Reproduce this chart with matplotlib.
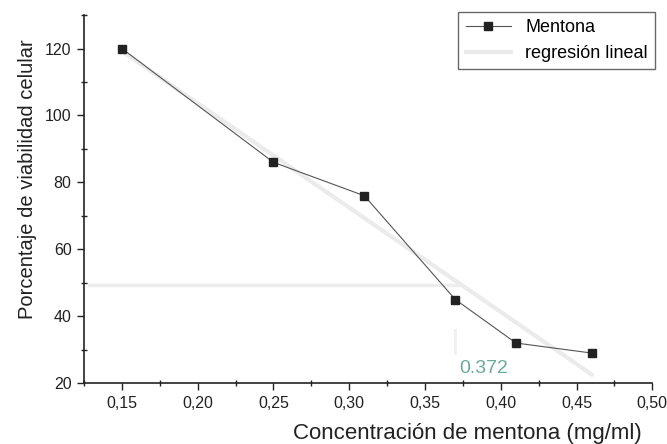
import numpy as np
import matplotlib.pyplot as plt
from matplotlib.ticker import MultipleLocator, FuncFormatter

plt.rcParams['font.family'] = ['Liberation Sans', 'DejaVu Sans']

# ====== datos ======
conc = [0.15, 0.25, 0.31, 0.37, 0.41, 0.46]
viab = [120, 86, 76, 45, 32, 29]
ic50_y = 50
x_ticks = [0.15, 0.20, 0.25, 0.30, 0.35, 0.40, 0.45, 0.50]
y_ticks = [20, 40, 60, 80, 100, 120]

# regresión lineal
slope, intercept = np.polyfit(conc, viab, 1)
ic50_x = (ic50_y - intercept) / slope
x_fit = np.array([conc[0], conc[-1]])
y_fit = slope * x_fit + intercept

fig = plt.figure(figsize=(6.67, 4.44), dpi=100)
ax = fig.add_axes([0.126, 0.137, 0.852, 0.829])

ax.plot(x_fit, y_fit, color='#ebebeb', lw=3, label='regresión lineal', zorder=1)
ax.plot([0.128, ic50_x], [ic50_y - 0.8, ic50_y - 0.8], color='#ededed', lw=2.5, zorder=1)
ax.plot([ic50_x - 0.002, ic50_x - 0.002], [29, 36], color='#f0f0f0', lw=2, zorder=1)
ax.plot(conc, viab, '-s', color='#555555', lw=0.8, markersize=6,
        markerfacecolor='#222222', markeredgecolor='#222222',
        label='Mentona', zorder=3)
ax.text(ic50_x + 0.0005, 24.5, f'{ic50_x:.3f}', color='#6aaa9a', fontsize=14,
        ha='left', va='center')

ax.set_xlim(0.125, 0.50)
ax.set_ylim(20, 130)
ax.set_xticks(x_ticks)
ax.set_yticks(y_ticks)
ax.xaxis.set_minor_locator(MultipleLocator(0.025))
ax.yaxis.set_minor_locator(MultipleLocator(10))
ax.xaxis.set_major_formatter(FuncFormatter(lambda v, p: f'{v:.2f}'.replace('.', ',')))

for s in ['top', 'right']:
    ax.spines[s].set_visible(False)
for s in ['left', 'bottom']:
    ax.spines[s].set_linewidth(1.2)
    ax.spines[s].set_color('#222222')
ax.tick_params(which='major', direction='out', length=5, width=1, labelsize=11.5,
               colors='#222222', pad=4)
ax.tick_params(which='minor', direction='inout', length=4, width=1, colors='#222222')

ax.set_ylabel('Porcentaje de viabilidad celular', fontsize=14.5, color='#222222')
ax.set_xlabel('Concentración de mentona (mg/ml)', fontsize=16, color='#222222')
ax.xaxis.set_label_coords(0.982, -0.136)
ax.xaxis.label.set_ha('right')
ax.xaxis.label.set_va('center')
ax.yaxis.set_label_coords(-0.1, 0.554)
ax.yaxis.label.set_va('center')

handles, labels = ax.get_legend_handles_labels()
leg = ax.legend(handles[::-1], labels[::-1], loc='upper right',
                bbox_to_anchor=(0.982, 0.973), bbox_transform=fig.transFigure,
                fontsize=13, frameon=True, fancybox=False, edgecolor='#444444',
                handlelength=2.5, borderpad=0.4, labelspacing=0.5,
                borderaxespad=0)
leg.get_frame().set_linewidth(1)

fig.savefig('out.png', dpi=100)
